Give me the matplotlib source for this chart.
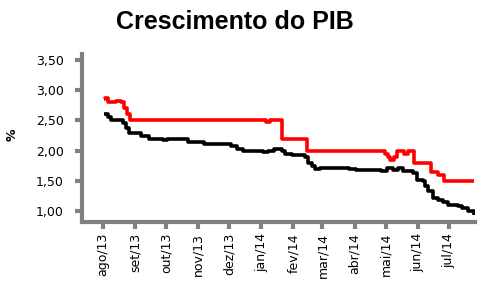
import matplotlib

matplotlib.use("Agg")
import matplotlib.dates as mdates
import matplotlib.pyplot as plt
import pandas as pd

# PIB expectations (Focus survey)
red_dates = [
    "2013-08-02", "2013-08-03", "2013-08-06", "2013-08-14", "2013-08-19",
    "2013-08-22", "2013-08-24", "2013-08-27", "2014-01-06", "2014-01-09",
    "2014-01-21", "2014-02-14", "2014-04-30", "2014-05-03", "2014-05-05",
    "2014-05-09", "2014-05-12", "2014-05-19", "2014-05-23", "2014-05-28",
    "2014-06-14", "2014-06-20", "2014-06-26", "2014-07-25",
]
red_values = [
    2.85, 2.87, 2.80, 2.83, 2.80,
    2.70, 2.60, 2.50, 2.48, 2.50,
    2.20, 2.00, 1.95, 1.90, 1.85,
    1.90, 2.00, 1.95, 2.00, 1.80,
    1.65, 1.60, 1.50, 1.50,
]

black_dates = [
    "2013-08-02", "2013-08-06", "2013-08-09", "2013-08-21", "2013-08-23",
    "2013-08-26", "2013-09-07", "2013-09-15", "2013-09-28", "2013-10-02",
    "2013-10-22", "2013-11-07", "2013-12-03", "2013-12-09", "2013-12-14",
    "2014-01-03", "2014-01-07", "2014-01-13", "2014-01-21", "2014-01-24",
    "2014-01-31", "2014-02-12", "2014-02-15", "2014-02-19", "2014-02-22",
    "2014-02-27", "2014-03-27", "2014-04-02", "2014-04-26", "2014-05-02",
    "2014-05-08", "2014-05-13", "2014-05-18", "2014-05-27", "2014-05-31",
    "2014-06-06", "2014-06-08", "2014-06-11", "2014-06-16", "2014-06-20",
    "2014-06-25", "2014-06-30", "2014-07-10", "2014-07-14", "2014-07-19",
    "2014-07-25",
]
black_values = [
    2.60, 2.55, 2.50, 2.45, 2.38,
    2.30, 2.25, 2.20, 2.17, 2.20,
    2.14, 2.11, 2.08, 2.03, 2.00,
    1.97, 2.00, 2.02, 2.00, 1.95,
    1.93, 1.90, 1.80, 1.75, 1.70,
    1.72, 1.70, 1.68, 1.66, 1.72,
    1.68, 1.72, 1.67, 1.63, 1.52,
    1.50, 1.42, 1.33, 1.22, 1.18,
    1.15, 1.10, 1.08, 1.05, 1.00,
    0.93,
]

month_labels = ["ago/13", "set/13", "out/13", "nov/13", "dez/13", "jan/14",
                "fev/14", "mar/14", "abr/14", "mai/14", "jun/14", "jul/14"]
y_ticks = [1.0, 1.5, 2.0, 2.5, 3.0, 3.5]

GRAY = "#808080"


def main():
    fig = plt.figure(figsize=(4.88, 2.92), dpi=100)
    ax = fig.add_axes([0.168, 0.24, 0.805, 0.575])

    ax.plot(pd.to_datetime(red_dates), red_values, color="#ff0000",
            lw=2.6, drawstyle="steps-post", solid_capstyle="butt")
    ax.plot(pd.to_datetime(black_dates), black_values, color="black",
            lw=2.6, drawstyle="steps-post", solid_capstyle="butt")

    ax.set_ylim(0.82, 3.6)
    ax.set_xlim(pd.Timestamp("2013-07-12"), pd.Timestamp("2014-07-26"))

    ticks = pd.date_range("2013-08-01", periods=len(month_labels), freq="MS")
    ax.set_xticks(mdates.date2num(ticks))
    ax.set_xticklabels(month_labels, rotation=90, fontsize=9)
    ax.set_yticks(y_ticks)
    ax.set_yticklabels([f"{v:.2f}".replace(".", ",") for v in y_ticks], fontsize=9)

    for side in ["top", "right"]:
        ax.spines[side].set_visible(False)
    for side in ["left", "bottom"]:
        ax.spines[side].set_color(GRAY)
        ax.spines[side].set_linewidth(3)
    ax.tick_params(axis="both", color=GRAY, width=3, length=5, direction="out")
    ax.tick_params(axis="y", pad=8)
    ax.tick_params(axis="x", pad=3)

    fig.text(0.012, 0.54, "%", rotation=90, fontsize=9, fontweight="bold",
             ha="left", va="center")
    fig.text(0.482, 0.925, "Crescimento do PIB", fontsize=18, fontweight="bold",
             family="Liberation Sans", ha="center", va="center")

    fig.savefig("out.png", dpi=100)


if __name__ == "__main__":
    main()
